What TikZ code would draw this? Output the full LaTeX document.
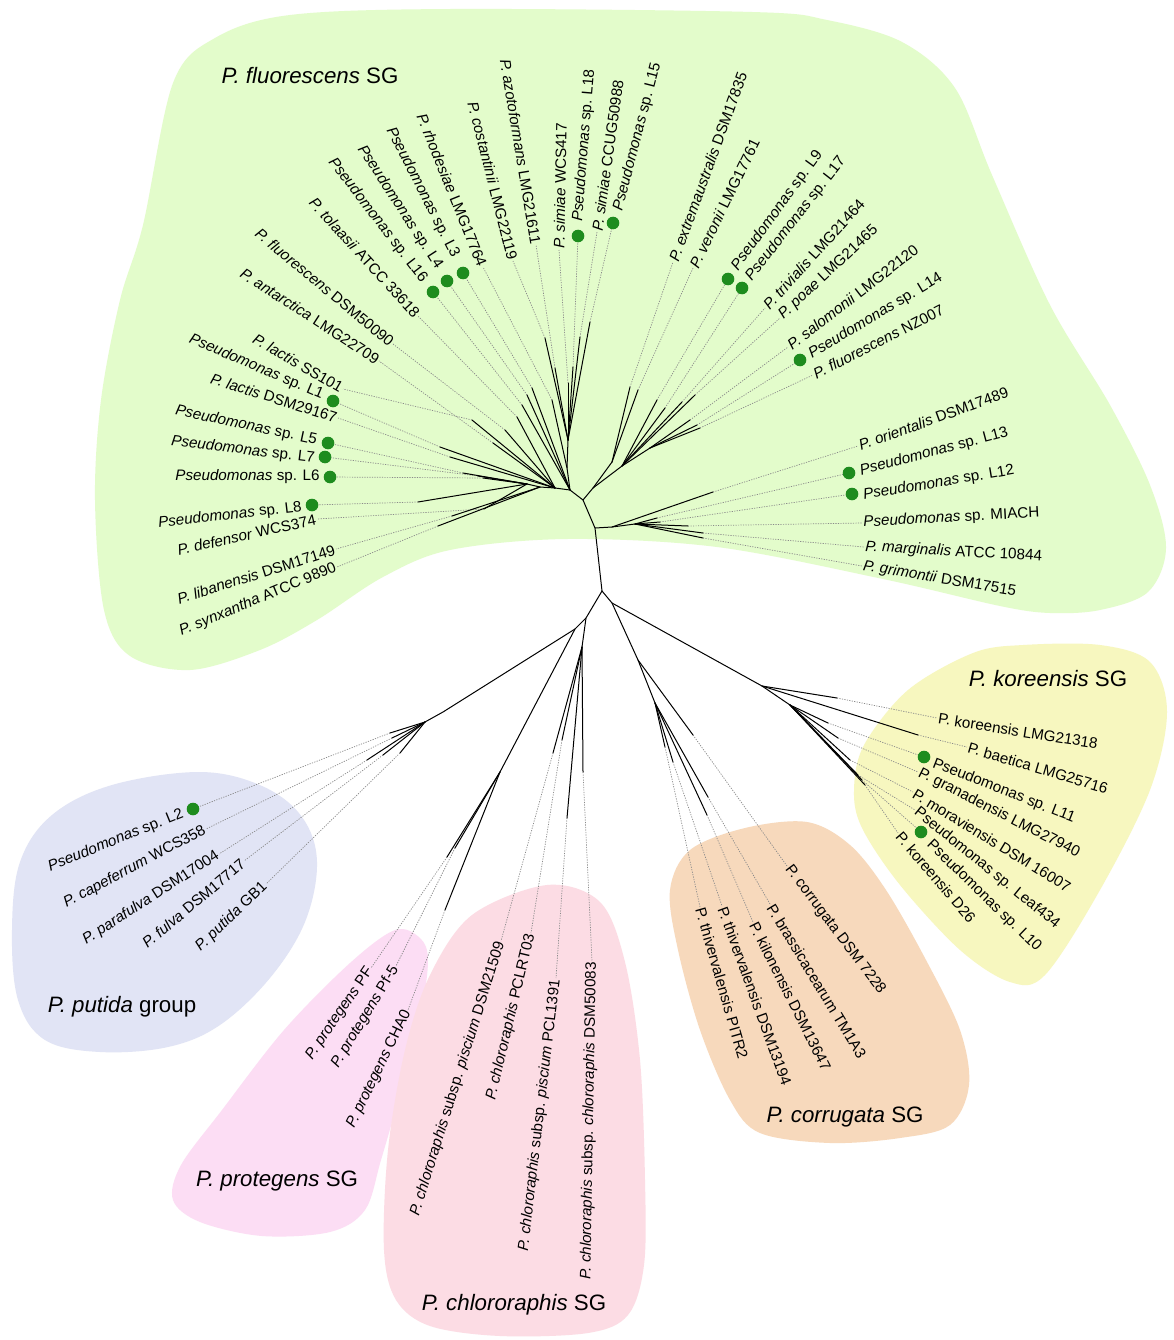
\documentclass[tikz,border=0pt]{standalone}
\usepackage{fontspec}
\setmainfont{Liberation Sans}
\definecolor{cflu}{HTML}{E3FCCB}
\definecolor{cput}{HTML}{E1E4F5}
\definecolor{cpro}{HTML}{FCDDF4}
\definecolor{cchl}{HTML}{FCDCE4}
\definecolor{ccor}{HTML}{F7D9BC}
\definecolor{ckor}{HTML}{F7F7BF}
\definecolor{cdot}{HTML}{1E8C1E}
\definecolor{clead}{HTML}{8A8A8A}
\newcommand\lfE[5]{\coordinate (t#1) at (#2); \coordinate (e#1) at (#3); \node[lab,anchor=east,rotate=#4] (n#1) at (e#1) {#5};}
\newcommand\lfW[5]{\coordinate (t#1) at (#2); \coordinate (e#1) at (#3); \node[lab,anchor=west,rotate=#4] (n#1) at (e#1) {#5};}
\newcommand\dlfE[6]{\coordinate (t#1) at (#2); \coordinate (e#1) at (#3); \node[lab,anchor=east,rotate=#5] (n#1) at (#4) {#6};}
\newcommand\dlfW[6]{\coordinate (t#1) at (#2); \coordinate (e#1) at (#3); \node[lab,anchor=west,rotate=#5] (n#1) at (#4) {#6};}
\begin{document}
\begin{tikzpicture}[x=1pt,y=-1pt,
  lab/.style={font=\fontsize{15.2}{17}\selectfont, inner sep=1.2pt},
  ttl/.style={font=\fontsize{22.3}{26}\selectfont, inner sep=0pt},
  br/.style={line width=1pt, black, line cap=round},
  lead/.style={clead, line width=0.7pt, dash pattern=on 1.2pt off 1.3pt},
  gdot/.style={fill=cdot}]
\useasboundingbox (0,0) rectangle (1173,1340);
\fill[white] (0,0) rectangle (1173,1340);
% ---------- group backgrounds ----------
\fill[cflu] plot[smooth cycle, tension=0.55] coordinates {(173,83) (215,38) (290,15) (451,9) (752,12) (827,20) (902,42) (955,88) (992,175) (1050,305) (1110,405) (1150,485) (1166,548) (1148,592) (1100,610) (1050,613) (1000,606) (883,579) (717,547) (567,539) (450,550) (383,577) (317,620) (260,650) (190,670) (130,656) (104,610) (95,500) (101,400) (120,300) (143,225)};
\fill[cput] plot[smooth cycle, tension=0.6] coordinates {(200,772) (262,786) (302,817) (317,862) (305,922) (270,978) (220,1025) (168,1047) (100,1052) (45,1040) (18,1000) (12,930) (20,862) (52,815) (112,785)};
\fill[cpro] plot[smooth cycle, tension=0.55] coordinates {(395,930) (420,938) (428,960) (421,1012) (401,1090) (381,1160) (365,1210) (330,1232) (262,1236) (200,1222) (173,1200) (181,1165) (222,1110) (284,1030) (350,963)};
\fill[cchl] plot[smooth cycle, tension=0.55] coordinates {(547,885) (600,902) (625,962) (640,1060) (645,1180) (644,1265) (628,1315) (588,1333) (500,1336) (430,1326) (396,1300) (384,1250) (388,1150) (405,1050) (430,975) (472,915)};
\fill[ccor] plot[smooth cycle, tension=0.55] coordinates {(807,822) (850,845) (886,890) (926,960) (960,1030) (969,1085) (950,1125) (900,1138) (830,1143) (760,1133) (730,1100) (700,1030) (678,950) (670,890) (690,850) (745,828)};
\fill[ckor] plot[smooth cycle, tension=0.55] coordinates {(973,653) (1023,645) (1100,645) (1150,662) (1167,712) (1150,790) (1100,890) (1045,975) (1010,982) (960,950) (900,885) (862,828) (854,790) (864,745) (908,690)};
% ---------- titles ----------
\node[ttl] (tflu) at (310,76) {\textit{P. fluorescens} SG};
\node[ttl] (tkor) at (1048,679) {\textit{P. koreensis} SG};
\node[ttl] (tput) at (122,1007) {\textit{P. putida} group};
\node[ttl] (tpro) at (277,1181) {\textit{P. protegens} SG};
\node[ttl] (tchl) at (514,1305) {\textit{P. chlororaphis} SG};
\node[ttl] (tcor) at (845,1117) {\textit{P. corrugata} SG};
% ---------- internal nodes ----------
\coordinate (R) at (602,591);
\coordinate (F0) at (595,528);
\coordinate (F1) at (583,500);
\coordinate (FL) at (570,490);
\coordinate (FLa) at (555,488);
\coordinate (FLb) at (540,487);
\coordinate (FLc) at (527,484);
\coordinate (FU) at (567,468);
\coordinate (FU2) at (568,440);
\coordinate (FM) at (593,488);
\coordinate (FMa) at (612,462);
\coordinate (FMb) at (622,466);
\coordinate (FMc) at (650,448);
\coordinate (FR) at (612,527);
\coordinate (FRa) at (635,524);
\coordinate (P1) at (586,618);
\coordinate (P2) at (575,629);
\coordinate (Pu) at (443,712);
\coordinate (Pu2) at (425,722);
\coordinate (Pr) at (500,772);
\coordinate (Ch) at (582,647);
\coordinate (K0) at (612,603);
\coordinate (C0) at (638,660);
\coordinate (C1) at (655,703);
\coordinate (Ko) at (762,686);
\coordinate (Ko2) at (790,705);
% ---------- leaves ----------
% fluorescens, left
\lfE{synx}{438,526}{337,567}{22.5}{\textit{P. synxantha} ATCC 9890}
\lfE{liban}{452,516}{336,549}{17.5}{\textit{P. libanensis} DSM17149}
\lfE{defen}{484,509}{317,519}{12.6}{\textit{P. defensor} WCS374}
\dlfE{Leight}{418,502}{312,505}{303,507}{6.6}{\textit{Pseudomonas} sp. L8}
\dlfE{Lsix}{483,478}{330,477}{321,477}{0}{\textit{Pseudomonas} sp. L6}
\dlfE{Lseven}{478,476}{325,457}{316,459}{-7}{\textit{Pseudomonas} sp. L7}
\dlfE{Lfive}{463,473}{328,443}{318,441}{-12}{\textit{Pseudomonas} sp. L5}
\lfE{lactisD}{450,457}{338,418}{-17.5}{\textit{P. lactis} DSM29167}
\dlfE{Lone}{440,447}{333,401}{324,396}{-23}{\textit{Pseudomonas} sp. L1}
\lfE{lactisS}{472,420}{343,389}{-30}{\textit{P. lactis} SS101}
\lfE{antarc}{493,443}{379,361}{-33}{\textit{P. antarctica} LMG22709}
\lfE{fluDSM}{505,430}{393,344}{-39.7}{\textit{P. fluorescens} DSM50090}
\lfE{tolaa}{517,417}{418,316}{-47.6}{\textit{P. tolaasii} ATCC 33618}
\dlfE{Lsixteen}{522,405}{433,292}{425,282}{-52.5}{\textit{Pseudomonas} sp. L16}
\dlfE{Lfour}{527,395}{447,281}{440,269}{-57}{\textit{Pseudomonas} sp. L4}
\dlfE{Lthree}{532,388}{463,273}{456,258}{-63}{\textit{Pseudomonas} sp. L3}
\lfE{rhode}{552,400}{483,267}{-68}{\textit{P. rhodesiae} LMG17764}
\lfE{costa}{545,338}{513,261}{-75.8}{\textit{P. costantinii} LMG22119}
\lfE{azoto}{555,368}{536,245}{-80.6}{\textit{P. azotoformans} LMG21611}
% fluorescens, top and right
\lfW{simW}{568,383}{559,250}{89}{\textit{P. simiae} WCS417}
\dlfW{Leighteen}{573,367}{578,236}{578,223}{85.4}{\textit{Pseudomonas} sp. L18}
\lfW{simC}{580,337}{597,232}{82}{\textit{P. simiae} CCUG50988}
\dlfW{Lfifteen}{590,322}{613,223}{618,212}{75.5}{\textit{Pseudomonas} sp. L15}
\lfW{extre}{630,387}{673,262}{69.8}{\textit{P. extremaustralis} DSM17835}
\lfW{veron}{638,390}{693,268}{64}{\textit{P. veronii} LMG17761}
\dlfW{Lnine}{657,400}{728,279}{734,270}{54}{\textit{Pseudomonas} sp. L9}
\dlfW{Lseventeen}{665,408}{742,288}{748,280}{52}{\textit{Pseudomonas} sp. L17}
\lfW{trivi}{682,402}{765,308}{47.8}{\textit{P. trivialis} LMG21464}
\lfW{poae}{695,395}{780,318}{43}{\textit{P. poae} LMG21465}
\lfW{salom}{690,420}{788,347}{37.7}{\textit{P. salomonii} LMG22120}
\dlfW{Lfourteen}{697,425}{800,360}{809,356}{31}{\textit{Pseudomonas} sp. L14}
\lfW{nz}{700,428}{813,375}{27}{\textit{P. fluorescens} NZ007}
\lfW{orien}{713,492}{858,446}{19.9}{\textit{P. orientalis} DSM17489}
\dlfW{Lthirteen}{657,518}{849,473}{859,472}{15}{\textit{Pseudomonas} sp. L13}
\dlfW{Ltwelve}{660,522}{852,494}{862,496}{9.5}{\textit{Pseudomonas} sp. L12}
\lfW{miach}{688,526}{862,523}{3.2}{\textit{Pseudomonas} sp. MIACH}
\lfW{margi}{703,533}{864,547}{-3.2}{\textit{P. marginalis} ATCC 10844}
\lfW{grimo}{703,538}{862,566}{-9.6}{\textit{P. grimontii} DSM17515}
% koreensis
\lfW{korL}{837,698}{937,718}{-9}{P. koreensis LMG21318}
\lfW{baeti}{918,735}{967,747}{-16.5}{P. baetica LMG25716}
\dlfW{Leleven}{828,723}{924,757}{932,763}{-21.4}{Pseudomonas sp. L11}
\lfW{grana}{838,738}{918,772}{-27}{P. granadensis LMG27940}
\lfW{morav}{850,760}{913,792}{-31.5}{P. moraviensis DSM 16007}
\lfW{leaf}{858,775}{915,810}{-39}{Pseudomonas sp. Leaf434}
\dlfW{Lten}{862,780}{921,832}{928,842}{-44}{Pseudomonas sp. L10}
\lfW{dtwsix}{865,785}{898,833}{-49.5}{P. koreensis D26}
% corrugata
\lfW{corrD}{693,735}{787,866}{-53}{P. corrugata DSM 7228}
\lfW{brass}{708,797}{770,904}{-58.7}{P. brassicacearum TM1A3}
\lfW{kilon}{707,815}{753,922}{-63.3}{P. kilonensis DSM13647}
\lfW{thivD}{673,762}{722,906}{-70}{P. thivervalensis DSM13194}
\lfW{thivP}{665,747}{700,907}{-74}{P. thivervalensis PITR2}
% chlororaphis
\lfE{chlA}{553,753}{501,941}{72.6}{\textit{P. chlororaphis} subsp. \textit{piscium} DSM21509}
\lfE{chlB}{562,740}{531,933}{76.6}{\textit{P. chlororaphis} PCLRT03}
\lfE{chlC}{567,818}{556,978}{83.3}{\textit{P. chlororaphis} subsp. \textit{piscium} PCL1391}
\lfE{chlD}{583,772}{592,961}{89}{\textit{P. chlororaphis} subsp. \textit{chlororaphis} DSM50083}
% protegens
\lfE{proA}{447,857}{371,968}{55.6}{\textit{P. protegens} PF}
\lfE{proB}{455,848}{396,966}{58.8}{\textit{P. protegens} Pf-5}
\lfE{proC}{445,910}{408,1010}{64}{\textit{P. protegens} CHA0}
% putida
\dlfE{Ltwo}{390,733}{193,809}{184,813}{22}{\textit{Pseudomonas} sp. L2}
\lfE{capef}{392,738}{206,829}{28}{\textit{P. capeferrum} WCS358}
\lfE{paraf}{367,760}{219,854}{33}{\textit{P. parafulva} DSM17004}
\lfE{fulva}{383,755}{244,861}{40}{\textit{P. fulva} DSM17717}
\lfE{gbone}{400,753}{266,884}{43.7}{\textit{P. putida} GB1}
% ---------- leader lines ----------
\foreach \n in {synx,liban,defen,Leight,Lsix,Lseven,Lfive,lactisD,Lone,lactisS,antarc,fluDSM,tolaa,Lsixteen,Lfour,Lthree,rhode,costa,azoto,simW,Leighteen,simC,Lfifteen,extre,veron,Lnine,Lseventeen,trivi,poae,salom,Lfourteen,nz,orien,Lthirteen,Ltwelve,miach,margi,grimo,korL,baeti,Leleven,grana,morav,leaf,Lten,dtwsix,corrD,brass,kilon,thivD,thivP,chlA,chlB,chlC,chlD,proA,proB,proC,Ltwo,capef,paraf,fulva,gbone}
  {\draw[lead] (t\n) -- (e\n);}
% ---------- tree branches ----------
\draw[br] (R) -- (F0) -- (F1) -- (FL) -- (FLa) -- (FLb) -- (FLc);
\draw[br] (F1) -- (FM);
\draw[br] (F0) -- (FR) -- (FRa);
\draw[br] (FL) -- (FU) -- (FU2);
\draw[br] (FM) -- (FMa); \draw[br] (FM) -- (FMb) -- (FMc);
\foreach \n in {synx,liban} {\draw[br] (FLb) -- (t\n);}
\foreach \n in {defen,Leight,Lsix,Lseven,Lfive} {\draw[br] (FLc) -- (t\n);}
\foreach \n in {lactisD,Lone,lactisS,antarc,fluDSM,tolaa} {\draw[br] (FLa) -- (t\n);}
\foreach \n in {Lsixteen,Lfour,Lthree} {\draw[br] (FL) -- (t\n);}
\draw[br] (FU) -- (trhode);
\foreach \n in {costa,azoto,simW,Leighteen,simC,Lfifteen} {\draw[br] (FU2) -- (t\n);}
\foreach \n in {extre,veron} {\draw[br] (FMa) -- (t\n);}
\foreach \n in {Lnine,Lseventeen,trivi,poae} {\draw[br] (FMb) -- (t\n);}
\foreach \n in {salom,Lfourteen,nz} {\draw[br] (FMc) -- (t\n);}
\draw[br] (FR) -- (torien);
\foreach \n in {Lthirteen,Ltwelve,miach,margi,grimo} {\draw[br] (FRa) -- (t\n);}
\draw[br] (R) -- (P1) -- (P2) -- (Pu) -- (Pu2);
\foreach \n in {Ltwo,capef,paraf,fulva,gbone} {\draw[br] (Pu2) -- (t\n);}
\draw[br] (P2) -- (Pr);
\foreach \n in {proA,proB,proC} {\draw[br] (Pr) -- (t\n);}
\draw[br] (P1) -- (Ch);
\foreach \n in {chlA,chlB,chlC,chlD} {\draw[br] (Ch) -- (t\n);}
\draw[br] (R) -- (K0) -- (C0) -- (C1);
\draw[br] (C0) -- (tcorrD);
\foreach \n in {brass,kilon,thivD,thivP} {\draw[br] (C1) -- (t\n);}
\draw[br] (K0) -- (Ko) -- (Ko2);
\foreach \n in {korL,baeti} {\draw[br] (Ko) -- (t\n);}
\foreach \n in {Leleven,grana,morav,leaf,Lten,dtwsix} {\draw[br] (Ko2) -- (t\n);}
% ---------- isolate dots ----------
\foreach \n in {Leight,Lsix,Lseven,Lfive,Lone,Lsixteen,Lfour,Lthree,Leighteen,Lfifteen,Lnine,Lseventeen,Lfourteen,Lthirteen,Ltwelve,Leleven,Lten,Ltwo}
  {\fill[gdot] (e\n) circle (6.3pt);}
\end{tikzpicture}
\end{document}
